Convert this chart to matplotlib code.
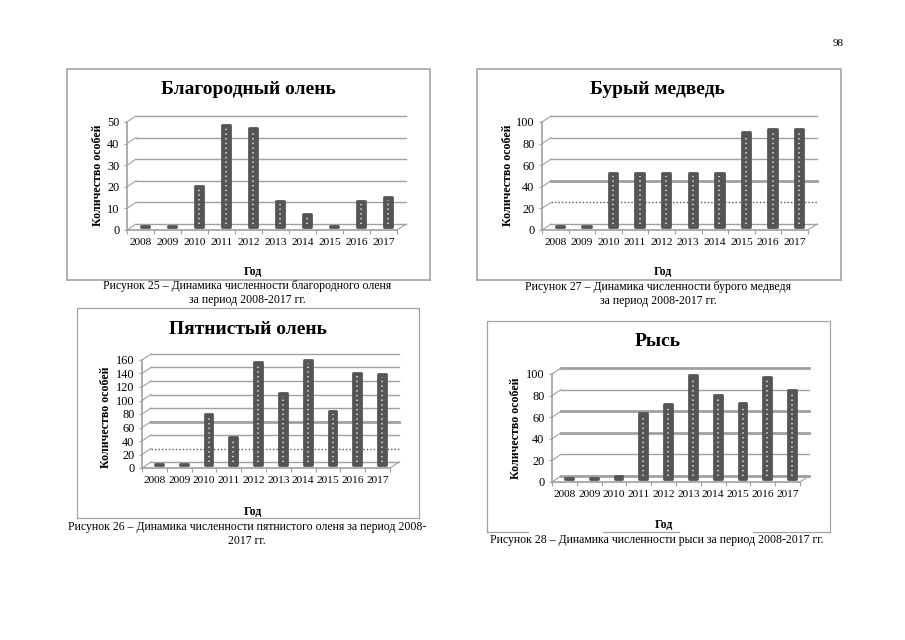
import matplotlib
matplotlib.use('Agg')
import matplotlib.pyplot as plt
from matplotlib.lines import Line2D
import numpy as np

W = 905
H = 640
GRAY = '#a0a0a0'
BAR = '#555555'
CAPTION = 8.45

years = ['2008', '2009', '2010', '2011', '2012', '2013', '2014', '2015', '2016', '2017']
noble_deer = [0.5, 0.5, 19, 47, 46, 12, 6, 0.5, 12, 14]
spotted_deer = [2, 2, 75, 41, 152, 106, 156, 80, 137, 135]
brown_bear = [1, 1, 50, 50, 50, 50, 50, 88, 91, 91]
lynx = [1, 1, 3, 61, 69, 96, 78, 70, 94, 82]


def px_text(fig, x, y, s, **kw):
    fig.text(x / W, 1 - y / H, s, ha=kw.pop('ha', 'center'), va='center', **kw)


def px_line(fig, xs, ys, lw):
    fig.add_artist(Line2D([x / W for x in xs], [1 - y / H for y in ys], transform=fig.transFigure,
                          color='#a3a3a3', linewidth=lw))


def draw_chart(fig, frame, axes_box, ymax, ystep, values, title, title_xy, ylabel_xy, year_xy,
               thick=(), dotted=(), bottom=None, frame_lw=1.2):
    # frame и axes_box в пикселях страницы
    fx0, fy0, fx1, fy1 = frame
    px_line(fig, [fx0, fx0, fx1, fx1], [fy1, fy0, fy0, fy1], frame_lw)
    if bottom is None:
        bottom = [(fx0, fx1)]
    for a, b in bottom:
        px_line(fig, [a, b], [fy1, fy1], frame_lw)
    x0, ytop, x1, y0 = axes_box
    ax = fig.add_axes([x0 / W, 1 - y0 / H, (x1 - x0) / W, (y0 - ytop) / H])
    ax.set_xlim(0, 10)
    ax.set_ylim(0, ymax)
    ax.patch.set_visible(False)
    px_x = (x1 - x0) / 10
    px_y = (y0 - ytop) / ymax
    # сдвиг задней стенки псевдо-3D
    dx = 9 / px_x
    dy = 6 / px_y
    ticks = np.arange(0, ymax + ystep, ystep)
    for t in ticks:
        lw = 1.0
        ls = '-'
        col = GRAY
        if t in thick:
            lw = 2.0
        if t in dotted:
            ls = (0, (1, 1.5))
            col = '#555555'
        ax.plot([dx, 10 + dx], [t + dy, t + dy], color=col, linewidth=lw, linestyle=ls, clip_on=False, zorder=1)
        ax.plot([0, dx], [t, t + dy], color=GRAY, linewidth=0.8, clip_on=False, zorder=1)
    ax.plot([10, 10 + dx], [0, dy], color=GRAY, linewidth=0.8, clip_on=False, zorder=1)
    # столбики
    xs = np.arange(10) + 0.5 + dx / 2
    ax.bar(xs, values, width=0.32, bottom=dy / 2, color=BAR, edgecolor=BAR, linewidth=2.0,
           joinstyle='round', clip_on=False, zorder=3)
    for x, v in zip(xs, values):
        if v > ymax * 0.05:
            ax.plot([x, x], [dy, v], color='white', linewidth=1.3, linestyle=(0, (0.8, 1.8)),
                    alpha=0.7, clip_on=False, zorder=4)
    for s in ['top', 'right']:
        ax.spines[s].set_visible(False)
    for s in ['left', 'bottom']:
        ax.spines[s].set_color(GRAY)
        ax.spines[s].set_linewidth(1.2)
    ax.set_xticks(np.arange(11))
    ax.set_xticklabels([])
    ax.set_xticks(np.arange(10) + 0.5, minor=True)
    ax.set_xticklabels(years, minor=True)
    ax.set_yticks(ticks)
    ax.tick_params(axis='x', which='major', length=3, color=GRAY)
    ax.tick_params(axis='x', which='minor', length=0, pad=6, labelsize=8.2)
    ax.tick_params(axis='y', length=2, color=GRAY, pad=3.5, labelsize=8.8)
    px_text(fig, title_xy[0], title_xy[1], title, fontsize=14, fontweight='bold')
    px_text(fig, ylabel_xy[0], ylabel_xy[1], 'Количество особей', fontsize=8.6, fontweight='bold', rotation=90)
    px_text(fig, year_xy[0], year_xy[1], 'Год', fontsize=8.6, fontweight='bold')


if __name__ == '__main__':
    plt.rcParams['font.family'] = ['Liberation Serif', 'DejaVu Serif']
    fig = plt.figure(figsize=(W / 100, H / 100), dpi=100, facecolor='white')

    draw_chart(fig, (67, 69, 430, 280), (127, 122, 397, 230), 50, 10, noble_deer, 'Благородный олень',
               (248, 89), (98, 175), (253, 272))
    draw_chart(fig, (477, 69, 841, 280), (542, 122, 808, 230), 100, 20, brown_bear, 'Бурый медведь',
               (657, 89), (508, 175), (663, 272), thick=(40,), dotted=(20,))
    draw_chart(fig, (77, 308, 419, 518), (142, 360, 390, 468), 160, 20, spotted_deer, 'Пятнистый олень',
               (248, 329), (106, 417), (253, 512), thick=(60,), dotted=(20,), frame_lw=0.9)
    draw_chart(fig, (487, 321, 830, 532), (552, 374, 800, 482), 100, 20, lynx, 'Рысь',
               (658, 342), (516, 428), (664, 525), thick=(100, 60, 40, 0), frame_lw=0.9,
               bottom=[(487, 528), (603, 679), (753, 830)])

    px_text(fig, 838, 44, '98', fontsize=8)
    px_text(fig, 247, 286, 'Рисунок 25 – Динамика численности благородного оленя', fontsize=CAPTION)
    px_text(fig, 247, 300, 'за период 2008-2017 гг.', fontsize=CAPTION)
    px_text(fig, 658, 287, 'Рисунок 27 – Динамика численности бурого медведя', fontsize=CAPTION)
    px_text(fig, 658, 301, 'за период 2008-2017 гг.', fontsize=CAPTION)
    px_text(fig, 247, 527, 'Рисунок 26 – Динамика численности пятнистого оленя за период 2008-', fontsize=CAPTION)
    px_text(fig, 247, 541, '2017 гг.', fontsize=CAPTION)
    px_text(fig, 657, 540, 'Рисунок 28 – Динамика численности рыси за период 2008-2017 гг.', fontsize=CAPTION)

    fig.savefig('out.png', dpi=100)
